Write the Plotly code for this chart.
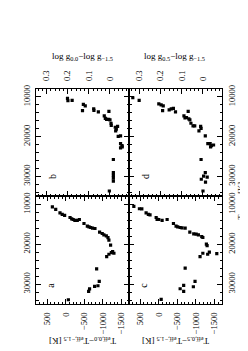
import plotly.graph_objects as go

# ---- data ----
# panel a : T_eff,0.0 - T_eff,-1.5 vs T_eff,-1.5
a_teff = [10650, 11250, 12150, 12500, 12750, 13300, 13650, 13800, 14000, 14000, 13800, 14800,
          15450, 15650, 15800, 15950, 16050, 16950, 17300, 17650, 17900, 18350, 18950, 20200,
          22100, 22250, 21850, 22500, 23100, 26150, 29300, 30400, 30550, 31200, 31800, 33900]
a_dteff = [360, 270, 155, 95, 30, -115, -160, -200, -245, -310, -365, -490,
           -580, -625, -670, -720, -785, -910, -980, -1025, -1090, -1135, -1160, -1205,
           -1225, -1295, -1260, -1160, -1100, -830, -900, -865, -775, -640, -615, -70]

# panel b : log g_0.0 - log g_-1.5
b_teff = [10400, 11000, 10900, 11900, 12300, 13500, 13000, 13400, 13800, 13650, 14800, 15400,
          15650, 15650, 15800, 16650, 17200, 17650, 18100, 17450, 18550, 19950, 19800, 21750,
          22250, 22850, 22600, 25750, 29050, 29750, 30400, 31150, 33650]
b_dlogg = [0.201, 0.199, 0.179, 0.126, 0.117, 0.130, 0.077, 0.076, 0.055, 0.005, 0.027, 0.022,
           0.016, 0.006, 0.000, -0.005, -0.006, -0.025, -0.030, -0.036, -0.027, -0.039, -0.050, -0.050,
           -0.057, -0.050, -0.058, -0.016, -0.016, -0.016, -0.016, -0.016, 0.003]

# panel c : T_eff,0.5 - T_eff,-1.5
c_teff = [10500, 11100, 11150, 12150, 12500, 12650, 13300, 13750, 13800, 14000, 13800, 14800,
          15450, 15650, 15800, 15900, 15950, 16950, 17400, 17450, 17650, 18100, 18300, 19950,
          20350, 21950, 22500, 22350, 22250, 23100, 26000, 29300, 30650, 30300, 31150, 31800, 33800]
c_dteff = [670, 520, 455, 340, 280, 235, 70, 45, 0, -90, -225, -395,
           -465, -510, -575, -625, -710, -835, -940, -1005, -1065, -1155, -1185, -1280,
           -1300, -1360, -1315, -1560, -1185, -1110, -710, -975, -930, -670, -575, -670, -65]

# panel d : log g_0.5 - log g_-1.5
d_teff = [10250, 10900, 11800, 12050, 12300, 13500, 13300, 13050, 12900, 13800, 13650, 14800,
          15300, 15200, 15550, 15800, 16650, 17300, 17300, 18550, 17450, 17950, 19800, 21750,
          21750, 22600, 22100, 22250, 25750, 29050, 29900, 30150, 30700, 31400, 33650]
d_dlogg = [0.332, 0.302, 0.209, 0.198, 0.188, 0.191, 0.160, 0.150, 0.140, 0.130, 0.070, 0.090,
           0.085, 0.078, 0.067, 0.062, 0.057, 0.047, 0.039, 0.019, 0.011, 0.009, -0.011, -0.023,
           -0.034, -0.036, -0.050, -0.040, 0.009, -0.011, -0.003, -0.020, 0.008, -0.012, 0.000]

teff_ticks = [10000, 20000, 30000]
teff_labels = ["10000", "20000", "30000"]
dteff_ticks = [500, 0, -500, -1000, -1500]
dteff_labels = ["500", "0", "\u2212500", "\u22121000", "\u22121500"]
dlogg_ticks = [0.3, 0.2, 0.1, 0]
dlogg_labels = ["0.3", "0.2", "0.1", "0"]
panel_letters = ["b", "d", "a", "c"]

W, H = 248, 351
FONT = "Liberation Serif"

def px(x):
    return x / W

def py(y):
    return 1 - y / H

fig = go.Figure()
panels = [(b_dlogg, b_teff, "x", "y"), (d_dlogg, d_teff, "x2", "y2"),
          (a_dteff, a_teff, "x3", "y3"), (c_dteff, c_teff, "x4", "y4")]
for xv, yv, xa, ya in panels:
    fig.add_trace(go.Scatter(x=xv, y=yv, xaxis=xa, yaxis=ya, mode="markers",
                             marker=dict(symbol="square", size=3.2, color="black",
                                         line=dict(width=0)),
                             showlegend=False, hoverinfo="skip"))

xl = [px(28), px(121)]
xr = [px(121), px(214)]
yt = [py(186.5), py(77.7)]
yb = [py(295.5), py(186.5)]

common = dict(showgrid=False, zeroline=False, showline=True, linecolor="black", linewidth=1,
              mirror="allticks", ticks="inside", ticklen=5, tickwidth=1, tickcolor="black",
              tickangle=-90, tickfont=dict(family=FONT, size=8.5, color="black"))

def logg_axis(domain):
    return dict(common, domain=domain, range=[0.35, -0.09], side="top",
                tickvals=dlogg_ticks, ticktext=dlogg_labels, ticklabelstandoff=5,
                minor=dict(dtick=0.02, tick0=0, ticks="inside", ticklen=2.5, tickcolor="black"))

def dteff_axis(domain):
    return dict(common, domain=domain, range=[800, -1700], side="bottom",
                tickvals=dteff_ticks, ticktext=dteff_labels, ticklabelstandoff=4,
                minor=dict(dtick=100, tick0=0, ticks="inside", ticklen=2.5, tickcolor="black"))

def teff_axis(domain, side):
    return dict(common, domain=domain, range=[35000, 8000], side=side,
                tickvals=teff_ticks, ticktext=teff_labels, ticklabelstandoff=2,
                minor=dict(dtick=2000, tick0=0, ticks="inside", ticklen=2.5, tickcolor="black"))

fig.update_layout(
    width=W, height=H, margin=dict(l=0, r=0, t=0, b=0),
    paper_bgcolor="white", plot_bgcolor="white",
    font=dict(family=FONT, color="black"),
    xaxis=logg_axis(xl), yaxis=teff_axis(yt, "left"),
    xaxis2=logg_axis(xr), yaxis2=teff_axis(yt, "right"),
    xaxis3=dteff_axis(xl), yaxis3=teff_axis(yb, "left"),
    xaxis4=dteff_axis(xr), yaxis4=teff_axis(yb, "right"),
)
fig.update_layout(yaxis2=dict(anchor="x2"), yaxis=dict(anchor="x"),
                  yaxis3=dict(anchor="x3"), yaxis4=dict(anchor="x4"),
                  xaxis=dict(anchor="y"), xaxis2=dict(anchor="y2"),
                  xaxis3=dict(anchor="y3"), xaxis4=dict(anchor="y4"))

ann = []
tf = dict(family=FONT, size=9, color="black")
ann.append(dict(x=px(74), y=py(45), text="log g<sub>0.0</sub>\u2212log g<sub>\u22121.5</sub>",
                textangle=0))
ann.append(dict(x=px(166), y=py(45), text="log g<sub>0.5</sub>\u2212log g<sub>\u22121.5</sub>",
                textangle=0))
ann.append(dict(x=px(75), y=py(333), text="T<sub>eff,0.0</sub>\u2212T<sub>eff,\u22121.5</sub> [K]",
                textangle=180))
ann.append(dict(x=px(168), y=py(333), text="T<sub>eff,0.5</sub>\u2212T<sub>eff,\u22121.5</sub> [K]",
                textangle=180))
ann.append(dict(x=px(234), y=py(191), text="T<sub>eff,\u22121.5</sub> [K]", textangle=-90,
                font=dict(family=FONT, size=8.5, color="black")))
letter_pos = [(44, 167), (137, 167), (43, 277), (136, 277)]
for (lx, ly), t in zip(letter_pos, panel_letters):
    ann.append(dict(x=px(lx), y=py(ly), text=t, textangle=-90, font=dict(family=FONT, size=10, color="black")))
for a in ann:
    a.setdefault("font", tf)
    fig.add_annotation(xref="paper", yref="paper", showarrow=False,
                       xanchor="center", yanchor="middle", **a)

fig.write_html("out.html")
